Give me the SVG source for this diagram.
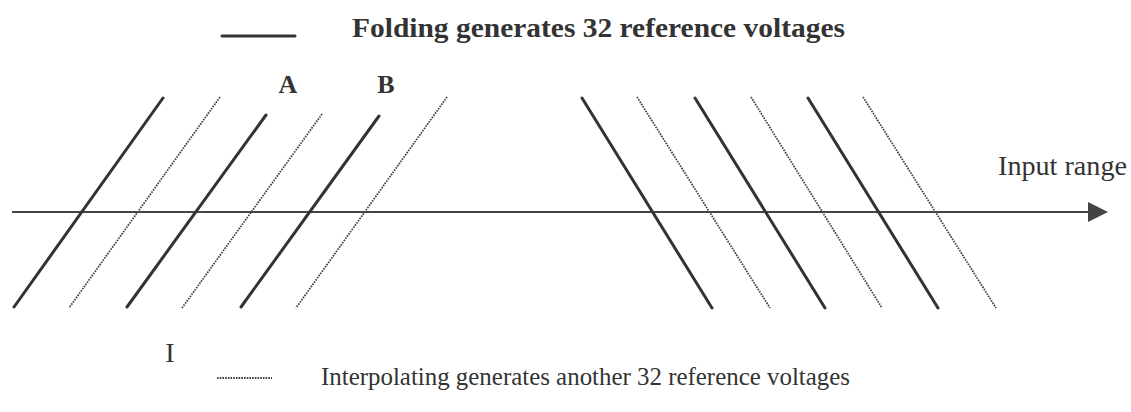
<svg xmlns="http://www.w3.org/2000/svg" width="1131" height="412" viewBox="0 0 1131 412">
<style>
.fold{stroke:#333;stroke-width:3;stroke-linecap:round;fill:none}
.interp{stroke:#444;stroke-width:1.8;stroke-dasharray:1.6 1.1;fill:none}
.axis{stroke:#444;stroke-width:2;fill:none}
.t{font-family:"Liberation Serif",serif;fill:#333}
.b{font-weight:bold}
</style>
<rect width="1131" height="412" fill="#fff"/>
<g id="legend-top">
<line class="fold" x1="222" y1="36" x2="295" y2="36"/>
<text class="t b" x="352" y="37" font-size="27" textLength="493" lengthAdjust="spacingAndGlyphs">Folding generates 32 reference voltages</text>
</g>
<g id="axis">
<line class="axis" x1="12" y1="212" x2="1092" y2="212"/>
<polygon points="1088,202 1108,212 1088,222" fill="#444"/>
<text class="t" x="998" y="175" font-size="27" textLength="129" lengthAdjust="spacingAndGlyphs">Input range</text>
</g>
<g id="rising">
<line class="fold" x1="163" y1="98" x2="14" y2="307"/>
<line class="interp" x1="220" y1="97" x2="69" y2="308"/>
<line class="fold" x1="266" y1="115" x2="127" y2="307"/>
<line class="interp" x1="322" y1="114" x2="182" y2="308"/>
<line class="fold" x1="379" y1="116" x2="241" y2="307"/>
<line class="interp" x1="447" y1="97" x2="296" y2="308"/>
</g>
<g id="falling">
<line class="fold" x1="582" y1="98" x2="712" y2="308"/>
<line class="interp" x1="637" y1="97" x2="770" y2="308"/>
<line class="fold" x1="695" y1="98" x2="825" y2="308"/>
<line class="interp" x1="751" y1="97" x2="882" y2="308"/>
<line class="fold" x1="808" y1="98" x2="938" y2="308"/>
<line class="interp" x1="863" y1="97" x2="996" y2="308"/>
</g>
<g id="labels">
<text class="t b" x="288" y="93" font-size="26" text-anchor="middle">A</text>
<text class="t b" x="386" y="93" font-size="26" text-anchor="middle">B</text>
<text class="t" x="170" y="362" font-size="28" text-anchor="middle">I</text>
</g>
<g id="legend-bottom">
<line class="interp" x1="217" y1="378" x2="272" y2="378"/>
<text class="t" x="321" y="385" font-size="25" textLength="529" lengthAdjust="spacingAndGlyphs">Interpolating generates another 32 reference voltages</text>
</g>
</svg>
